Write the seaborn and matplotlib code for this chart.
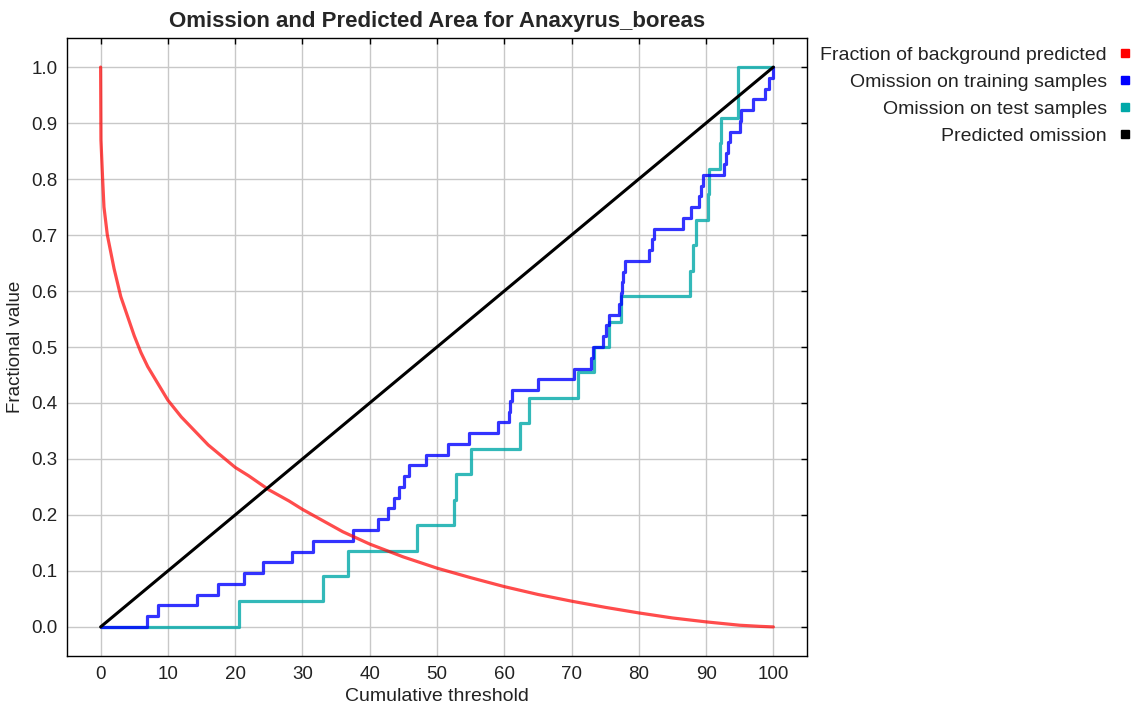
import seaborn as sns
import numpy as np
import pandas as pd
import matplotlib.pyplot as plt
from matplotlib.lines import Line2D

# values
bg_x = [0, 0.05, 0.3, 0.5, 1, 2, 3, 4, 5, 6, 7, 8, 10, 12, 14, 16, 18, 20, 22, 25,
        28, 30, 33, 36, 40, 45, 50, 55, 60, 65, 70, 75, 80, 85, 90, 95, 98, 100]
bg_y = [1.0, 0.87, 0.80, 0.75, 0.70, 0.64, 0.59, 0.555, 0.52, 0.49, 0.465, 0.445, 0.405,
        0.375, 0.35, 0.325, 0.305, 0.285, 0.27, 0.245, 0.225, 0.21, 0.19, 0.17, 0.148,
        0.125, 0.105, 0.088, 0.072, 0.058, 0.046, 0.035, 0.025, 0.016, 0.009, 0.003,
        0.001, 0.0]

# training omission: threshold where omission becomes k/52
train_x = [0, 6.9, 8.6, 14.4, 17.4, 21.3, 24.1, 28.5, 31.5, 37.5, 41.2, 42.7, 43.6, 44.4,
           45.1, 45.9, 48.4, 51.6, 54.7, 59.0, 60.7, 60.9, 61.2, 65.0, 70.4, 72.9, 73.2,
           74.7, 75.1, 75.6, 77.1, 77.3, 77.5, 77.7, 78.0, 81.5, 81.9, 82.3, 86.6, 87.8,
           89.0, 89.3, 89.6, 92.7, 92.9, 93.2, 93.6, 95.0, 95.2, 97.0, 98.7, 99.3, 100]
n_train = 52
train_y = [k / n_train for k in range(len(train_x))]

# test omission: threshold where omission becomes k/22
test_x = [0, 20.6, 33.0, 36.7, 47.1, 52.5, 52.8, 55.1, 62.4, 63.7, 70.9, 73.4, 75.6,
          77.3, 87.6, 88.1, 88.5, 90.3, 90.5, 92.0, 92.2, 94.7, 94.8, 100]
n_test = 22
test_y = [min(k, n_test) / n_test for k in range(len(test_x))]

pred_x = [0, 100]
pred_y = [0.0, 1.0]

labels = ["Fraction of background predicted", "Omission on training samples",
          "Omission on test samples", "Predicted omission"]
colors = ["#ff0000", "#0000ff", "#00a8a8", "#000000"]

sns.set_style("white")
plt.rcParams['font.family'] = ['Liberation Sans', 'DejaVu Sans']

fig = plt.figure(figsize=(11.39, 7.14), dpi=100)
ax = fig.add_axes([0.0588, 0.0812, 0.6497, 0.8656])

common = dict(ax=ax, estimator=None, sort=False, legend=False)
sns.lineplot(x=test_x, y=test_y, color=colors[2], lw=2.3, alpha=0.8,
             drawstyle='steps-post', **common)
sns.lineplot(x=train_x, y=train_y, color=colors[1], lw=2.3, alpha=0.8,
             drawstyle='steps-post', **common)
sns.lineplot(x=bg_x, y=bg_y, color=colors[0], lw=2.3, alpha=0.7, **common)
sns.lineplot(x=pred_x, y=pred_y, color=colors[3], lw=2.2, **common)

ax.set_xlim(-5, 105)
ax.set_ylim(-0.052, 1.052)
ax.set_xticks(np.arange(0, 101, 10))
ax.set_yticks(np.arange(0, 1.01, 0.1))
ax.set_yticklabels([f"{v:.1f}" for v in np.arange(0, 1.01, 0.1)])
ax.grid(True, color="#c8c8c8", lw=1)
ax.set_axisbelow(True)
for s in ax.spines.values():
    s.set_color("black")
    s.set_linewidth(1.0)
ax.tick_params(direction='in', length=4, width=1, top=True, right=True,
               labelsize=13.5, colors='black', labelcolor='#222222', pad=7)

ax.set_title("Omission and Predicted Area for Anaxyrus_boreas", fontsize=16,
             fontweight='bold', pad=8)
ax.set_xlabel("Cumulative threshold", fontsize=14, labelpad=4, color='#222222')
ax.set_ylabel("Fractional value", fontsize=13.5, labelpad=5, color='#222222')

handles = [Line2D([], [], ls='none', marker='s', ms=6, color=c) for c in colors]
fig.legend(handles, labels, loc='upper right', bbox_to_anchor=(1.001, 0.949),
           markerfirst=False, frameon=False, fontsize=14, handlelength=0.6,
           handletextpad=0.6, labelspacing=0.48, borderpad=0, labelcolor='#222222')

fig.savefig("out.png", dpi=100)
